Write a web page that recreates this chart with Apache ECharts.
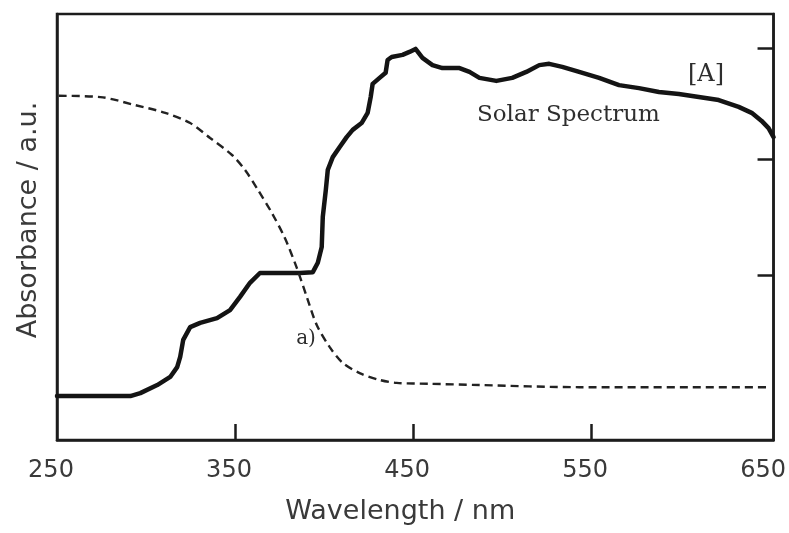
<!DOCTYPE html>
<html>
<head>
<meta charset="utf-8">
<title>Absorbance vs Wavelength</title>
<script src="https://cdn.jsdelivr.net/npm/echarts@6/dist/echarts.min.js"></script>
<style>
	html, body { margin: 0; padding: 0; background: #fff; }
	#chart { width: 789px; height: 533px; }
</style>
</head>
<body>
<div id="chart"></div>
<script>

// Solar spectrum (solid curve), wavelength in nm
var solarX = [250, 291.2, 296.8, 306.3, 313.6, 317.5, 319.2, 320.9, 324.8, 330.4, 339.9, 347.2, 352.8, 358.4, 364.0,
	376.9, 386.4, 393.7, 396.5, 398.7, 399.3, 401.0, 402.1, 404.9, 408.8, 412.7, 416.1, 421.1, 424.5, 426.2, 427.3,
	431.2, 434.6, 435.7, 438.0, 444.1, 448.0, 451.4, 455.3, 460.9, 466.5, 476.1, 481.7, 487.3, 496.8, 505.7, 513.6,
	520.9, 526.5, 533.8, 543.3, 554.5, 565.7, 576.9, 588.1, 599.3, 610.5, 621.7, 632.9, 640.2, 645.8, 649.7, 652.5];
var solarY = [10.3, 10.3, 11.0, 12.9, 14.8, 17.1, 19.5, 23.5, 26.5, 27.5, 28.6, 30.5, 33.6, 36.9, 39.2,
	39.2, 39.2, 39.4, 41.6, 45.3, 52.4, 58.7, 63.4, 66.4, 68.8, 71.1, 72.8, 74.4, 76.8, 80.5, 83.6,
	85.0, 86.2, 89.2, 89.9, 90.4, 91.1, 91.8, 89.7, 88.0, 87.3, 87.3, 86.4, 85.0, 84.3, 85.0, 86.4,
	88.0, 88.3, 87.6, 86.4, 85.0, 83.3, 82.6, 81.7, 81.2, 80.5, 79.8, 78.2, 76.8, 74.9, 73.2, 71.1];

// Absorbance of a) (dashed curve)
var dyeX = [251, 274.4, 294.0, 310.8, 324.8, 336.0, 348.3, 355.6, 362.9, 370.7, 378.0, 384.7, 390.3, 395.9,
	403.2, 410.5, 420.0, 431.2, 440.8, 459.2, 487.3, 543.3, 649.7];
var dyeY = [80.8, 80.5, 78.6, 76.8, 74.4, 70.9, 66.9, 63.4, 58.7, 53.3, 47.4, 40.4, 33.6, 27.0,
	21.8, 18.1, 15.7, 14.1, 13.4, 13.2, 12.9, 12.4, 12.4];

// Axis ticks and labels
var xLabels = [250, 350, 450, 550, 650];
var xTicks = [350, 450, 550];
var yTicks = [38.7, 66.0, 92.0];

var ink = '#1c1c1c';
var textInk = '#3a3a3a';

function zip(xs, ys) {
	var out = [];
	for (var i = 0; i < xs.length; i++) {
		out.push([xs[i], ys[i]]);
	}
	return out;
}

var chart = echarts.init(document.getElementById('chart'), null, { renderer: 'canvas' });

var option = {
	animation: false,
	backgroundColor: '#fff',
	grid: {
		left: 57, right: 14, top: 14, bottom: 93,
		show: true,
		borderColor: ink,
		borderWidth: 2.5
	},
	xAxis: {
		type: 'value',
		min: 250,
		max: 652.5,
		name: 'Wavelength / nm',
		nameLocation: 'middle',
		nameGap: 58,
		nameTextStyle: { fontFamily: 'DejaVu Sans', fontSize: 27, color: textInk, padding: [0, 30, 0, 0] },
		axisLine: { show: true, lineStyle: { color: ink, width: 2.5 } },
		axisTick: { show: true, inside: true, length: 16, customValues: xTicks, lineStyle: { color: ink, width: 2.5 } },
		axisLabel: {
			customValues: xLabels,
			fontFamily: 'DejaVu Sans',
			fontSize: 24,
			color: textInk,
			margin: 19,
			padding: [0, 12, 0, 0]
		},
		splitLine: { show: false }
	},
	yAxis: [{
		type: 'value',
		position: 'left',
		min: 0,
		max: 100,
		name: 'Absorbance / a.u.',
		nameLocation: 'middle',
		nameRotate: 90,
		nameGap: 15,
		nameTextStyle: { fontFamily: 'DejaVu Sans', fontSize: 27, color: textInk, padding: [0, 0, 0, 14] },
		axisLine: { show: true, lineStyle: { color: ink, width: 2.5 } },
		axisTick: { show: false },
		axisLabel: { show: false },
		splitLine: { show: false }
	}, {
		type: 'value',
		position: 'right',
		min: 0,
		max: 100,
		axisLine: { show: true, lineStyle: { color: ink, width: 2.5 } },
		axisTick: { show: true, inside: true, length: 16, customValues: yTicks, lineStyle: { color: ink, width: 2.5 } },
		axisLabel: { show: false },
		splitLine: { show: false }
	}],
	series: [{
		name: 'Solar Spectrum',
		type: 'line',
		data: zip(solarX, solarY),
		showSymbol: false,
		lineStyle: { color: '#141414', width: 4.5, join: 'round', cap: 'round' }
	}, {
		name: 'a)',
		type: 'line',
		data: zip(dyeX, dyeY),
		showSymbol: false,
		smooth: 0.3,
		lineStyle: { color: '#222', width: 2.4, type: [8, 5] }
	}],
	// Text annotations inside the plot
	graphic: [{
		type: 'text',
		style: { text: 'Solar Spectrum', x: 477, y: 115, font: '23px "DejaVu Serif"', fill: '#2e2e2e', verticalAlign: 'middle' }
	}, {
		type: 'text',
		style: { text: '[A]', x: 706, y: 75, font: '24px "DejaVu Serif"', fill: '#2e2e2e', align: 'center', verticalAlign: 'middle' }
	}, {
		type: 'text',
		style: { text: 'a)', x: 306, y: 339, font: '20px "DejaVu Serif"', fill: '#2e2e2e', align: 'center', verticalAlign: 'middle' }
	}]
};

chart.setOption(option);

</script>
</body>
</html>
